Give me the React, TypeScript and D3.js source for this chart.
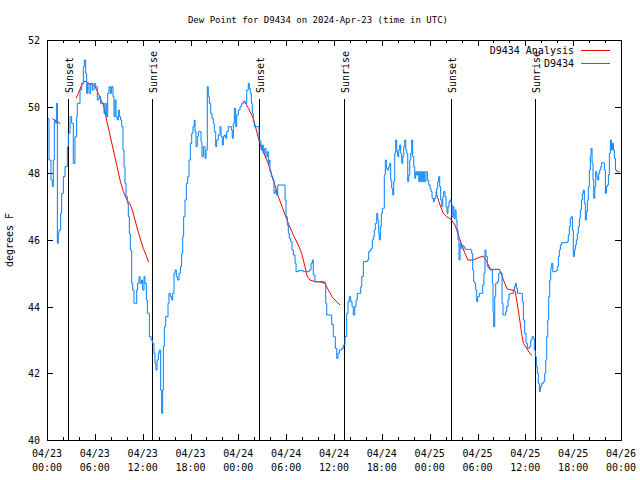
import React from "react";
import * as d3 from "d3";

// Hours after 2024-04-23 00:00 UTC and dew point (°F)
const dewHours: number[] = [
  0.05, 0.17, 0.25, 0.5, 0.67, 0.79, 0.92, 1.1, 1.21, 1.3, 1.42, 1.51, 1.71, 1.84, 2.05, 2.26, 2.55, 2.68, 2.89, 3.09,
  3.3, 3.51, 3.72, 3.8, 4.14, 4.35, 4.56, 4.68, 4.85, 4.98, 5.1, 5.27, 5.48, 5.69, 5.9, 6.1, 6.31, 6.52, 6.73, 6.94,
  7.15, 7.28, 7.44, 7.61, 7.78, 7.94, 8.11, 8.28, 8.4, 8.53, 8.66, 8.82, 8.95, 9.07, 9.24, 9.37, 9.53, 9.66, 9.78, 9.91,
  10.08, 10.2, 10.33, 10.45, 10.62, 10.75, 10.91, 11.12, 11.25, 11.37, 11.54, 11.67, 11.87, 12.0, 12.17, 12.29, 12.46, 12.59, 12.71, 12.84,
  13.05, 13.21, 13.42, 13.55, 13.67, 13.8, 13.97, 14.09, 14.26, 14.38, 14.51, 14.59, 14.72, 14.89, 15.05, 15.18, 15.3, 15.47, 15.64, 15.76,
  15.93, 16.06, 16.22, 16.39, 16.56, 16.73, 16.89, 17.02, 17.14, 17.31, 17.48, 17.65, 17.81, 17.98, 18.15, 18.31, 18.48,
  18.57, 18.69, 18.85, 18.98, 19.19, 19.32, 19.44, 19.61, 19.82, 19.95, 20.11, 20.23, 20.36, 20.53, 20.7, 20.86, 20.99, 21.16, 21.29, 21.49,
  21.7, 21.83, 21.99, 22.12, 22.24, 22.42, 22.54, 22.74, 22.96, 23.12, 23.24, 23.37, 23.5, 23.67, 23.8, 24.0, 24.21, 24.42, 24.62, 24.84,
  25.05, 25.25, 25.38, 25.5, 25.63, 25.75, 25.88, 26.0, 26.47, 26.59, 26.72, 26.84, 27.01, 27.13, 27.31, 27.47, 27.63, 27.76, 27.89, 27.97,
  28.14, 28.31, 28.47, 28.64, 28.81, 28.94, 29.77, 29.86, 29.98, 30.14, 30.27, 30.39, 30.57, 30.73, 30.9, 31.11, 31.24, 31.52, 32.15, 32.9,
  33.12, 33.28, 33.4, 33.62, 34.78, 34.96, 35.09, 35.5, 35.71, 35.91, 36.04, 36.17, 36.34, 36.5, 36.67, 36.97, 37.17, 37.38, 37.59, 37.76,
  37.92, 38.1, 38.26, 38.42, 38.6, 38.76, 38.92, 39.18, 39.35, 39.48, 39.68, 40.02, 40.18, 40.35, 40.52, 40.68, 40.81, 40.93, 41.06, 41.18,
  41.36, 41.48, 41.61, 41.68, 41.81, 41.94, 42.06, 42.19, 42.31, 42.44, 42.56, 42.69, 42.86, 42.99, 43.11, 43.24, 43.37, 43.49, 43.62, 43.74,
  43.87, 43.99, 44.12, 44.24, 44.37, 44.5, 44.62, 44.75, 44.87, 45.0, 45.12, 45.25, 45.37, 45.5, 45.62, 45.75, 45.87, 46.0, 46.13, 46.25,
  46.38, 46.5, 46.63, 46.75, 46.88, 47.0, 47.13, 47.25, 47.38, 47.54, 47.71, 47.88, 48.05, 48.17, 48.3, 48.46, 48.58, 48.76, 48.88, 49.01,
  49.13, 49.26, 49.38, 49.51, 49.64, 49.76, 49.93, 50.05, 50.18, 50.3, 50.43, 50.55, 50.68, 50.8, 50.93, 51.05, 51.18, 51.31, 51.43, 51.56,
  51.68, 51.81, 51.93, 52.06, 52.18, 52.43, 52.85, 53.15, 53.27, 53.4, 53.52, 53.65, 53.77, 53.9, 54.02, 54.23, 54.53, 54.65, 54.81, 54.94,
  55.07, 55.23, 55.41, 55.57, 55.78, 55.86, 55.95, 56.03, 56.16, 56.28, 56.49, 56.66, 56.83, 56.95, 57.08, 57.2, 57.37, 57.54, 57.67, 57.83,
  57.95, 58.17, 58.49, 58.62, 58.75, 58.87, 59.0, 59.5, 59.62, 59.75, 59.92, 60.09, 60.25, 60.5, 60.68, 60.84, 61.0, 61.13, 61.25, 61.38,
  61.5, 61.63, 61.76, 61.88, 62.06, 62.26, 62.43, 62.56, 62.68, 62.81, 62.93, 63.06, 63.19, 63.31, 63.44, 63.6, 63.85, 64.01, 64.14, 64.26,
  64.39, 64.56, 65.27, 65.39, 65.52, 65.64, 65.77, 65.9, 66.02, 66.15, 66.27, 66.4, 66.52, 66.65, 66.78, 66.9, 67.03, 67.15, 67.28, 67.4,
  67.53, 67.65, 67.78, 67.9, 68.03, 68.15, 68.24, 68.37, 68.49, 68.58, 68.71, 68.83, 68.96, 69.08, 69.21, 69.33, 69.46, 69.58, 69.79, 69.92,
  70.04, 70.17, 70.29, 70.42, 70.54, 70.67, 70.8, 70.92, 71.05, 71.17, 71.3, 71.47, 71.88,
];
const dewValues: number[] = [
  49.65, 49.65, 48.4, 47.8, 47.6, 48.4, 49.6, 49.5, 50.1, 45.9, 46.2, 46.3, 46.8, 47.4, 47.9, 48.2, 48.8, 49.2, 49.7, 49.5,
  48.3, 49.1, 49.7, 50.1, 50.5, 50.7, 51.2, 51.4, 51.0, 50.4, 50.7, 50.4, 50.7, 50.5, 50.7, 50.6, 50.2, 50.3, 50.1, 50.1,
  49.8, 50.1, 49.7, 50.4, 50.6, 50.4, 50.6, 50.3, 49.7, 50.2, 49.7, 49.6, 49.9, 49.7, 49.6, 49.4, 48.7, 48.2, 47.7, 47.3,
  47.1, 46.7, 46.2, 45.7, 44.7, 44.5, 44.1, 44.1, 44.5, 44.7, 44.9, 44.7, 44.8, 44.5, 44.9, 44.7, 44.2, 43.8, 43.8, 43.1,
  43.0, 42.9, 42.6, 42.3, 42.1, 42.4, 42.6, 42.7, 41.5, 40.8, 41.5, 42.8, 43.4, 43.7, 43.7, 44.1, 44.4, 44.3, 44.2, 44.4,
  45.0, 45.1, 44.9, 44.8, 45.0, 45.2, 45.6, 46.1, 46.7, 47.2, 47.7, 47.9, 48.4, 48.9, 49.2, 49.4, 49.6,
  49.25, 48.8, 49.1, 49.25, 49.25, 48.95, 48.5, 48.8, 48.45, 48.7, 50.6, 50.3, 50.1, 49.8, 49.65, 49.5, 49.25, 48.8, 49.0, 49.15,
  49.4, 49.1, 48.85, 49.1, 49.15, 49.05, 49.25, 49.4, 49.4, 49.3, 49.05, 49.5, 49.95, 49.4, 49.75, 49.9, 50.0, 50.1, 50.15, 50.1,
  50.5, 50.7, 50.55, 50.4, 50.1, 49.8, 49.55, 49.4, 49.4, 49.0, 48.95, 48.7, 48.85, 48.6, 48.75, 48.5, 48.65, 48.3, 48.4, 48.05,
  47.9, 47.8, 47.4, 47.5, 47.35, 47.65, 47.65, 47.2, 46.7, 46.45, 46.2, 46.05, 45.95, 45.7, 45.55, 45.3, 45.05, 45.08, 45.05, 45.1,
  45.3, 45.4, 44.95, 44.75, 44.73, 44.1, 43.75, 43.75, 43.47, 43.1, 43.1, 42.75, 42.45, 42.6, 42.7, 42.75, 42.85, 43.1, 43.8, 44.15,
  44.3, 44.15, 44.0, 43.75, 44.0, 44.2, 44.4, 44.4, 44.6, 44.9, 45.35, 45.35, 45.4, 45.65, 45.7, 45.75, 46.0, 46.1, 46.3, 46.5,
  46.8, 46.6, 46.2, 46.0, 46.4, 46.8, 46.95, 46.95, 47.95, 48.4, 48.15, 48.1, 48.2, 48.3, 47.8, 47.55, 47.35, 47.75, 48.6, 49.0,
  48.65, 48.5, 48.7, 48.85, 48.6, 48.3, 48.5, 48.8, 49.0, 48.7, 48.6, 47.75, 47.95, 48.4, 48.6, 49.0, 48.5, 48.2, 47.85, 48.05,
  47.95, 48.05, 47.75, 48.05, 47.75, 48.05, 47.75, 48.05, 47.75, 48.05, 47.8, 47.65, 47.55, 47.45, 47.25, 47.15, 47.25, 47.35, 47.55, 47.75,
  47.9, 47.6, 47.2, 47.0, 47.3, 47.45, 47.3, 47.0, 46.8, 47.0, 47.15, 47.2, 47.1, 46.7, 47.0, 46.65, 46.9, 46.6, 46.3, 46.0,
  45.4, 45.9, 45.75, 45.85, 45.8, 45.72, 45.72, 45.7, 45.6, 45.1, 44.75, 44.7, 44.5, 44.15, 44.3, 44.4, 44.4, 44.65, 45.0, 45.7,
  45.5, 45.2, 45.15, 45.1, 45.1, 44.7, 43.85, 43.4, 44.3, 44.7, 44.75, 45.0, 45.05, 45.0, 44.1, 43.75, 43.75, 43.85, 44.0, 44.2,
  44.38, 44.4, 44.5, 44.6, 44.7, 44.55, 44.4, 44.4, 44.15, 43.6, 43.2, 42.9, 42.75, 42.8, 43.0, 43.1, 43.05, 42.7, 42.5, 42.2,
  42.0, 41.7, 41.45, 41.6, 41.7, 41.75, 42.0, 42.4, 43.1, 43.6, 44.3, 44.8, 45.15, 45.3, 45.05, 45.05, 45.08, 45.2, 45.5, 45.7,
  45.85, 45.92, 45.95, 46.15, 46.4, 46.65, 46.7, 46.3, 45.5, 45.7, 45.85, 46.0, 46.2, 46.4, 46.65, 46.9, 47.2, 47.4, 47.5, 47.1,
  46.6, 46.85, 47.2, 47.6, 48.1, 48.5, 48.75, 48.3, 47.8, 47.25, 47.6, 48.05, 47.9, 47.8, 48.0, 48.1, 48.2, 48.32, 48.32, 48.1,
  47.4, 47.6, 47.65, 47.95, 48.6, 49.0, 48.7, 48.9, 48.7, 48.45, 48.1, 48.05, 48.05,
];

// Analysis series: null hour marks a gap between segments
const analysisHours: (number | null)[] = [
  0.67, 1.0, 1.34, 1.71, null,
  3.64, 3.93, 4.26, 4.56, 4.77, 5.1, 5.39, 5.69, 6.02, 6.44, 6.77, 7.07, 7.28, 7.48, 7.9, 8.32, 8.74, 9.16, 9.58, 9.99,
  10.41, 10.7, 11.04, 11.37, 11.75, 12.08, 12.42, 12.75, null,
  24.75, 25.26, 25.88, 26.63, 27.76, 28.39, 29.02, 29.64, 30.27, 30.9, 31.52, 31.94, 32.36, 32.65, 32.99, 33.62, 34.24,
  34.87, 35.29, 35.84, 36.34, 36.75, null,
  48.76, 49.3, 49.71, 50.13, 50.68, 51.18, 51.6, 52.02, 52.43, 52.77, 53.48, 54.1, 54.73, 55.15, 55.65, 56.74, 57.04,
  57.33, 57.74, 58.29, 58.7, 58.91, 59.24, 59.54, 59.75, 60.17, 60.5, 60.79,
];
const analysisValues: (number | null)[] = [
  49.65, 49.58, 49.55, 49.48, null,
  50.25, 50.4, 50.6, 50.73, 50.77, 50.72, 50.68, 50.68, 50.6, 50.4, 50.2, 50.05, 49.85, 49.6, 49.15, 48.7, 48.25, 47.8, 47.45, 47.22,
  47.08, 46.9, 46.6, 46.3, 46.0, 45.75, 45.55, 45.33, null,
  50.18, 49.95, 49.65, 48.95, 48.28, 47.8, 47.3, 46.9, 46.5, 46.15, 45.85, 45.6, 45.2, 44.9, 44.8, 44.75, 44.74,
  44.7, 44.5, 44.27, 44.15, 44.05, null,
  47.45, 47.05, 46.8, 46.7, 46.62, 46.45, 46.15, 45.85, 45.6, 45.4, 45.4, 45.47, 45.52, 45.35, 45.12, 45.12, 44.95,
  44.75, 44.53, 44.5, 44.48, 44.2, 43.7, 43.2, 42.9, 42.75, 42.63, 42.53,
];

const sunLabels: string[] = ["Sunset", "Sunrise", "Sunset", "Sunrise", "Sunset", "Sunrise"];
const sunHours: number[] = [2.67, 13.21, 26.63, 37.3, 50.72, 61.25];

const yTicks: number[] = [40, 42, 44, 46, 48, 50, 52];
const title = "Dew Point for D9434 on 2024-Apr-23 (time in UTC)";
const yLabel = "degrees F";
const seriesNames: string[] = ["D9434 Analysis", "D9434"];
const seriesColors: string[] = ["#ff0000", "#0080ff"];

const START = Date.UTC(2024, 3, 23, 0, 0, 0);
const toDate = (h: number) => new Date(START + h * 3600 * 1000);

export default function App() {
  const W = 640, H = 480;
  const L = 47, R = 621, T = 40, B = 440;
  const font = "'DejaVu Sans Mono', monospace";

  const x = d3.scaleUtc().domain([toDate(0), toDate(72)]).range([L, R]);
  const y = d3.scaleLinear().domain([40, 52]).range([B, T]);

  const majorTicks = x.ticks(d3.utcHour.every(6)!);
  const minorTicks = x.ticks(d3.utcHour.every(2)!);
  const fmtDate = d3.utcFormat("%m/%d");
  const fmtTime = d3.utcFormat("%H:%M");

  const dewData = dewHours.map((h, i) => ({ t: toDate(h), v: dewValues[i] }));
  const anaData = analysisHours.map((h, i) => ({
    t: h === null ? null : toDate(h),
    v: analysisValues[i],
  }));

  const dewLine = d3
    .line<{ t: Date; v: number }>()
    .x((d) => x(d.t))
    .y((d) => y(d.v))
    .curve(d3.curveStepAfter);
  const anaLine = d3
    .line<{ t: Date | null; v: number | null }>()
    .defined((d) => d.t !== null && d.v !== null)
    .x((d) => x(d.t as Date))
    .y((d) => y(d.v as number));

  const minorLen = 3, majorLen = 6;

  return (
    <svg width={W} height={H} style={{ display: "block", position: "absolute", left: 0, top: 0, background: "#fff" }} fontFamily={font} fontSize={10}>
      <rect x={0} y={0} width={W} height={H} fill="#fff" />
      <text x={318} y={23} textAnchor="middle" fill="#000" fontSize={9}>{title}</text>
      <text transform={`translate(13,240) rotate(-90)`} textAnchor="middle" fill="#000">{yLabel}</text>

      {/* y ticks */}
      {yTicks.map((t) => (
        <g key={"y" + t} shapeRendering="crispEdges">
          <line x1={L} x2={L + majorLen} y1={Math.round(y(t)) + 0.5} y2={Math.round(y(t)) + 0.5} stroke="#000" />
          <line x1={R - majorLen} x2={R} y1={Math.round(y(t)) + 0.5} y2={Math.round(y(t)) + 0.5} stroke="#000" />
          <text x={40} y={y(t) + 4} textAnchor="end" fill="#000">{t}</text>
        </g>
      ))}

      {/* x ticks */}
      {minorTicks.map((d, i) => {
        const major = d.getUTCHours() % 6 === 0;
        const len = major ? majorLen : minorLen;
        const px = Math.round(x(d)) + 0.5;
        return (
          <g key={"x" + i} shapeRendering="crispEdges">
            <line x1={px} x2={px} y1={B} y2={B - len} stroke="#000" />
            <line x1={px} x2={px} y1={T} y2={T + len} stroke="#000" />
          </g>
        );
      })}
      {majorTicks.map((d, i) => (
        <g key={"xl" + i}>
          <text x={x(d)} y={457} textAnchor="middle" fill="#000">{fmtDate(d)}</text>
          <text x={x(d)} y={471} textAnchor="middle" fill="#000">{fmtTime(d)}</text>
        </g>
      ))}

      {/* sunrise / sunset markers */}
      {sunHours.map((h, i) => {
        const px = Math.round(x(toDate(h))) + 0.5;
        return (
          <g key={"s" + i}>
            <line x1={px} x2={px} y1={99} y2={B} stroke="#000" shapeRendering="crispEdges" />
            <text transform={`translate(${px + 4},93) rotate(-90)`} textAnchor="start" fill="#000">{sunLabels[i]}</text>
          </g>
        );
      })}

      {/* data */}
      <path d={anaLine(anaData) || ""} fill="none" stroke={seriesColors[0]} strokeWidth={1} />
      <path d={dewLine(dewData) || ""} fill="none" stroke={seriesColors[1]} strokeWidth={1} />

      {/* legend */}
      {seriesNames.map((n, i) => (
        <g key={"lg" + i}>
          <text x={574} y={54 + i * 12.5} textAnchor="end" fill="#000">{n}</text>
          <line x1={581} x2={610} y1={50.5 + i * 12.5} y2={50.5 + i * 12.5} stroke={seriesColors[i]} shapeRendering="crispEdges" />
        </g>
      ))}

      {/* border */}
      <rect x={L + 0.5} y={T + 0.5} width={R - L} height={B - T} fill="none" stroke="#000" shapeRendering="crispEdges" />
    </svg>
  );
}
